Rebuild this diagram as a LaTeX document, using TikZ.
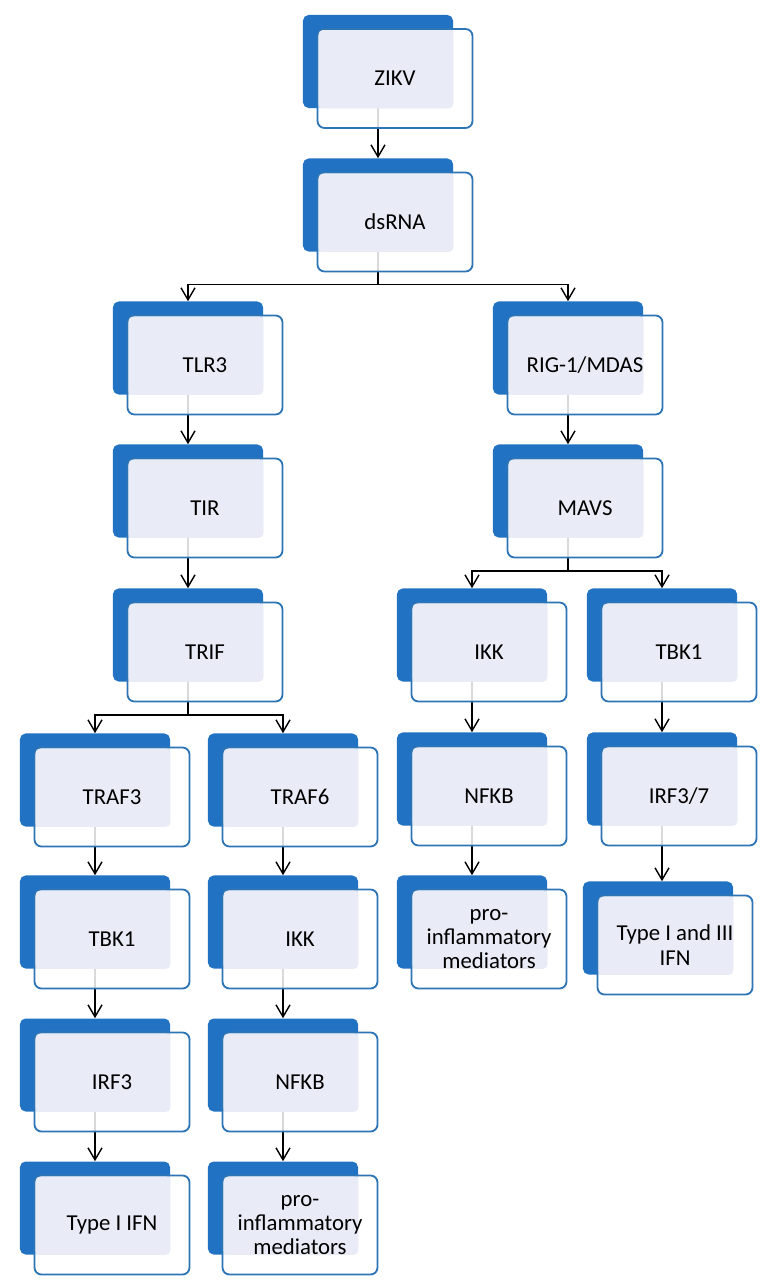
\documentclass[tikz,border=0pt]{standalone}
\usepackage{fontspec}
\setmainfont{Carlito}
\usetikzlibrary{arrows.meta}
\definecolor{cardblue}{HTML}{2272C3}
\definecolor{cardedge}{HTML}{2E75B6}
\definecolor{cardlav}{HTML}{E9EBF6}
\pgfdeclarelayer{bg}
\pgfsetlayers{bg,main}
\begin{document}
\begin{tikzpicture}[x=0.025cm,y=-0.025cm,
    backcard/.style={rectangle,rounded corners=4pt,fill=cardblue,minimum width=3.75cm,minimum height=2.325cm,inner sep=0pt},
    frontcard/.style={rectangle,rounded corners=5pt,draw=cardedge,line width=1.3pt,fill=white,fill opacity=0.85,draw opacity=1,minimum width=3.875cm,minimum height=2.475cm,inner sep=0pt},
    cardtext/.style={align=center,font=\fontsize{16.2}{17.2}\selectfont,text=black},
    arr/.style={line width=1pt,-{Straight Barb[length=3mm,width=3.5mm]}},
    fork/.style={line width=1pt}]
    \useasboundingbox (0,0) rectangle (777,1286);
    % cards: name / back centre x / back centre y / text
    \foreach \n/\x/\y/\lbl in {zikv/378/61.5/ZIKV, dsrna/378/205/dsRNA,
        tlr3/188/348/TLR3, rig/568/348/{RIG-1\slash MDAS},
        tir/188/491/TIR, mavs/568/491/MAVS,
        trif/188/635/TRIF, ikkR/472/635/IKK, tbkR/662/635/TBK1,
        traf3/95/780/TRAF3, traf6/283/780/TRAF6, nfkbR/472/779/NFKB, irf37/662/779/{IRF3\slash 7},
        tbkL/95/922/TBK1, ikkL/283/922/IKK, proR/472/922/{pro-\\inflammatory\\mediators}, ifnR/658/928/{Type I and III\\IFN},
        irf3/95/1065/IRF3, nfkbL/283/1065/NFKB,
        ifnL/95/1208/Type I IFN, proL/283/1208/{pro-\\inflammatory\\mediators}}{
        \node[backcard] (\n) at (\x,\y) {};
        \node[frontcard] (\n-f) at ([shift={(17,17)}]\n.center) {};
        \fill[cardlav,rounded corners=3pt] ([shift={(2,2)}]\n-f.north west) rectangle (\n.south east);
        \node[cardtext] at (\n-f) {\lbl};
    }
    \begin{pgfonlayer}{bg}
        \draw[arr] (zikv.south) -- (dsrna.north);
        % branch after dsRNA
        \draw[fork] (dsrna.south) -- ++(0,33) coordinate (fk1);
        \draw[arr] (fk1) -| (tlr3.north);
        \draw[arr] (fk1) -| (rig.north);
        \draw[arr] (tlr3.south) -- (tir.north);
        \draw[arr] (tir.south) -- (trif.north);
        \draw[arr] (rig.south) -- (mavs.north);
        % branch after TRIF
        \draw[fork] (trif.south) -- ++(0,33) coordinate (fk2);
        \draw[arr] (fk2) -| (traf3.north);
        \draw[arr] (fk2) -| (traf6.north);
        % branch after MAVS
        \draw[fork] (mavs.south) -- ++(0,33) coordinate (fk3);
        \draw[arr] (fk3) -| (ikkR.north);
        \draw[arr] (fk3) -| (tbkR.north);
        \draw[arr] (traf3.south) -- (tbkL.north);
        \draw[arr] (tbkL.south) -- (irf3.north);
        \draw[arr] (irf3.south) -- (ifnL.north);
        \draw[arr] (traf6.south) -- (ikkL.north);
        \draw[arr] (ikkL.south) -- (nfkbL.north);
        \draw[arr] (nfkbL.south) -- (proL.north);
        \draw[arr] (ikkR.south) -- (nfkbR.north);
        \draw[arr] (nfkbR.south) -- (proR.north);
        \draw[arr] (tbkR.south) -- (irf37.north);
        \draw[arr] (irf37.south) -- (irf37.south |- ifnR.north);
    \end{pgfonlayer}
\end{tikzpicture}
\end{document}
